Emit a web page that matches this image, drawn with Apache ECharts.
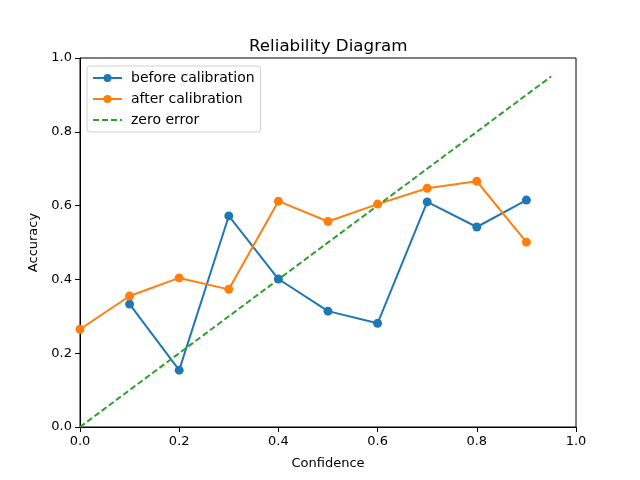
<!DOCTYPE html>
<html>
<head>
<meta charset="utf-8">
<script src="https://cdn.jsdelivr.net/npm/echarts@6/dist/echarts.min.js"></script>
<style>
  html, body { margin: 0; padding: 0; background: #fff; }
  #chart { width: 640px; height: 480px; }
</style>
</head>
<body>
<div id="chart"></div>
<script>
// values
const beforeX = [0.1, 0.2, 0.3, 0.4, 0.5, 0.6, 0.7, 0.8, 0.9]
const beforeY = [0.333, 0.154, 0.572, 0.401, 0.314, 0.281, 0.610, 0.542, 0.615]
const afterX = [0.0, 0.1, 0.2, 0.3, 0.4, 0.5, 0.6, 0.7, 0.8, 0.9]
const afterY = [0.265, 0.355, 0.404, 0.373, 0.612, 0.557, 0.604, 0.647, 0.666, 0.501]
const zeroX = [0.0, 0.95]
const zeroY = [0.0, 0.95]

const pairs = (xs, ys) => xs.map((x, i) => [x, ys[i]])

const FONT = 'DejaVu Sans'
const axisCommon = {
    type: 'value',
    min: 0,
    max: 1,
    interval: 0.2,
    splitLine: { show: false },
    axisLine: { show: true, lineStyle: { color: '#000', width: 1 } },
    axisTick: { show: true, inside: false, length: 5, lineStyle: { color: '#000' } },
    axisLabel: {
        color: '#000', fontFamily: FONT, fontSize: 13,
        formatter: v => v.toFixed(1)
    },
    nameLocation: 'middle',
    nameTextStyle: { color: '#000', fontFamily: FONT, fontSize: 13 }
}

const chart = echarts.init(document.getElementById('chart'))
const option = {
    animation: false,
    backgroundColor: '#fff',
    title: {
        text: 'Reliability Diagram',
        left: 244, top: 33,
        textStyle: { fontFamily: FONT, fontSize: 16.7, fontWeight: 'normal', color: '#000' }
    },
    grid: {
        left: 80, right: 64, top: 58, bottom: 53,
        show: true, borderColor: '#000', borderWidth: 1
    },
    legend: {
        orient: 'vertical',
        left: 87, top: 66,
        padding: [5, 6, 5, 5],
        itemGap: 7,
        itemWidth: 29, itemHeight: 10,
        backgroundColor: '#fff',
        borderColor: '#d0d0d0', borderWidth: 1, borderRadius: 3,
        textStyle: { fontFamily: FONT, fontSize: 14, color: '#000', padding: [0, 0, 0, 4] },
        data: [
            'before calibration',
            'after calibration',
            { name: 'zero error', itemStyle: { opacity: 0 } }
        ]
    },
    xAxis: Object.assign({}, axisCommon, { name: 'Confidence', nameGap: 30 }),
    yAxis: Object.assign({}, axisCommon, { name: 'Accuracy', nameGap: 37 }),
    series: [
        {
            name: 'before calibration', type: 'line',
            data: pairs(beforeX, beforeY),
            color: '#1f77b4',
            symbol: 'circle', symbolSize: 9,
            lineStyle: { width: 2 }
        },
        {
            name: 'after calibration', type: 'line',
            data: pairs(afterX, afterY),
            color: '#ff7f0e',
            symbol: 'circle', symbolSize: 9,
            lineStyle: { width: 2 }
        },
        {
            name: 'zero error', type: 'line',
            data: pairs(zeroX, zeroY),
            color: '#2ca02c',
            symbol: 'none',
            lineStyle: { width: 2, type: [6, 3] }
        }
    ]
}
chart.setOption(option)
</script>
</body>
</html>
